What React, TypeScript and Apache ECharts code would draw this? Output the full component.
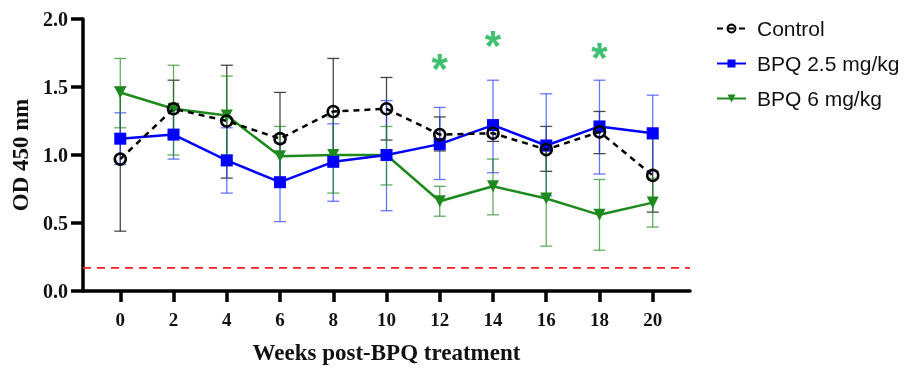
import React, { useEffect, useRef } from "react";
import * as echarts from "echarts";

const weeks = [0, 2, 4, 6, 8, 10, 12, 14, 16, 18, 20];
const xTicks = [0, 2, 4, 6, 8, 10, 12, 14, 16, 18, 20];

const controlMean = [0.97, 1.34, 1.25, 1.12, 1.32, 1.34, 1.15, 1.16, 1.04, 1.17, 0.85];
const controlLow = [0.44, 1.13, 0.83, 0.78, 0.93, 1.11, 1.03, 1.1, 0.88, 1.01, 0.58];
const controlHigh = [1.5, 1.55, 1.66, 1.46, 1.71, 1.57, 1.28, 1.22, 1.21, 1.32, 1.12];

const bpq25Mean = [1.12, 1.15, 0.96, 0.8, 0.95, 1.0, 1.08, 1.22, 1.07, 1.21, 1.16];
const bpq25Low = [0.93, 0.97, 0.72, 0.51, 0.66, 0.59, 0.82, 0.87, 0.7, 0.86, 0.88];
const bpq25High = [1.31, 1.33, 1.2, 1.09, 1.23, 1.4, 1.35, 1.55, 1.45, 1.55, 1.44];

const bpq6Mean = [1.46, 1.34, 1.29, 0.99, 1.0, 1.0, 0.66, 0.77, 0.68, 0.56, 0.65];
const bpq6Low = [1.2, 1.0, 1.0, 0.77, 0.72, 0.78, 0.55, 0.56, 0.33, 0.3, 0.47];
const bpq6High = [1.71, 1.66, 1.58, 1.21, 1.28, 1.21, 0.77, 0.97, 1.03, 0.82, 0.83];

const starWeeks = [12, 14, 18];
const starY = [1.66, 1.83, 1.74];

const cutoff = 0.17;

const serif = "'Liberation Serif', 'Times New Roman', serif";
const sans = "'Liberation Sans', Arial, sans-serif";

function errRender(color: string) {
  return (params: any, api: any) => {
    const x = api.value(0);
    const lo = api.value(1);
    const hi = api.value(2);
    const pLo = api.coord([x, lo]);
    const pHi = api.coord([x, hi]);
    const w = 6;
    const style = { stroke: color, lineWidth: 1.3 };
    return {
      type: "group",
      children: [
        { type: "line", shape: { x1: pLo[0], y1: pLo[1], x2: pHi[0], y2: pHi[1] }, style },
        { type: "line", shape: { x1: pLo[0] - w, y1: pLo[1], x2: pLo[0] + w, y2: pLo[1] }, style },
        { type: "line", shape: { x1: pHi[0] - w, y1: pHi[1], x2: pHi[0] + w, y2: pHi[1] }, style },
      ],
    };
  };
}

export default function App() {
  const ref = useRef<HTMLDivElement>(null);
  useEffect(() => {
    if (!ref.current) return;
    const chart = echarts.init(ref.current, null, { renderer: "svg" });
    const pair = (m: number[]) => weeks.map((w, i) => [w, m[i]]);
    const err = (lo: number[], hi: number[]) => weeks.map((w, i) => [w, lo[i], hi[i]]);
    chart.setOption({
      animation: false,
      grid: { left: 83, right: 216, top: 19, bottom: 76 },
      legend: {
        orient: "vertical",
        left: 711,
        top: 13,
        itemWidth: 29,
        itemHeight: 10,
        itemGap: 14,
        data: ["Control", "BPQ 2.5 mg/kg", "BPQ 6 mg/kg"],
        textStyle: { fontFamily: sans, fontSize: 21, color: "#111", padding: [0, 0, 0, 6] },
      },
      xAxis: {
        type: "value",
        min: -1.4,
        max: 21.4,
        splitLine: { show: false },
        axisLine: { lineStyle: { color: "#000", width: 3.5 } },
        axisTick: { show: true, length: 11, lineStyle: { color: "#000", width: 3.5 }, customValues: xTicks },
        axisLabel: {
          customValues: xTicks,
          margin: 19,
          fontFamily: serif,
          fontWeight: "bold",
          fontSize: 19,
          color: "#111",
        },
        name: "Weeks post-BPQ treatment",
        nameLocation: "middle",
        nameGap: 50,
        nameTextStyle: { fontFamily: serif, fontWeight: "bold", fontSize: 23, color: "#111" },
      },
      yAxis: {
        type: "value",
        min: 0,
        max: 2,
        interval: 0.5,
        splitLine: { show: false },
        axisLine: { show: true, onZero: false, lineStyle: { color: "#000", width: 3.5 } },
        axisTick: { show: true, length: 12, lineStyle: { color: "#000", width: 3.5 } },
        axisLabel: {
          margin: 15,
          fontFamily: serif,
          fontWeight: "bold",
          fontSize: 20,
          color: "#111",
          formatter: (v: number) => v.toFixed(1),
        },
        name: "OD 450 nm",
        nameLocation: "middle",
        nameGap: 50,
        nameRotate: 90,
        nameTextStyle: { fontFamily: serif, fontWeight: "bold", fontSize: 23, color: "#111" },
      },
      series: [
        {
          type: "custom",
          name: "err-control",
          renderItem: errRender("rgba(40,40,40,0.85)"),
          encode: { x: 0, y: [1, 2] },
          data: err(controlLow, controlHigh),
          z: 1,
          silent: true,
        },
        {
          type: "custom",
          name: "err-bpq25",
          renderItem: errRender("rgba(40,60,255,0.7)"),
          encode: { x: 0, y: [1, 2] },
          data: err(bpq25Low, bpq25High),
          z: 1,
          silent: true,
        },
        {
          type: "custom",
          name: "err-bpq6",
          renderItem: errRender("rgba(30,140,30,0.7)"),
          encode: { x: 0, y: [1, 2] },
          data: err(bpq6Low, bpq6High),
          z: 1,
          silent: true,
        },
        {
          type: "line",
          name: "BPQ 6 mg/kg",
          data: pair(bpq6Mean),
          symbol: "triangle",
          symbolRotate: 180,
          symbolSize: 12,
          color: "#1e8a1e",
          lineStyle: { width: 2.5, color: "#1e8a1e" },
          itemStyle: { color: "#1e8a1e" },
          z: 3,
        },
        {
          type: "line",
          name: "BPQ 2.5 mg/kg",
          data: pair(bpq25Mean),
          symbol: "rect",
          symbolSize: 12,
          color: "#0000ff",
          lineStyle: { width: 2.5, color: "#0000ff" },
          itemStyle: { color: "#0000ff" },
          z: 4,
        },
        {
          type: "line",
          name: "Control",
          data: pair(controlMean),
          symbol: "circle",
          symbolSize: 11,
          color: "#000",
          lineStyle: { width: 2.5, color: "#000", type: [6, 5] },
          itemStyle: { color: "rgba(255,255,255,0)", borderColor: "#000", borderWidth: 2.5 },
          z: 5,
        },
        {
          type: "line",
          name: "cutoff",
          data: [[-1.4, cutoff], [21.4, cutoff]],
          symbol: "none",
          lineStyle: { color: "#ff2020", width: 1.8, type: [8, 6] },
          z: 2,
          silent: true,
        },
        {
          type: "scatter",
          name: "stars",
          data: starWeeks.map((w, i) => [w, starY[i]]),
          symbolSize: 1,
          itemStyle: { color: "rgba(0,0,0,0)" },
          label: {
            show: true,
            position: "inside",
            formatter: "*",
            fontFamily: sans,
            fontSize: 42,
            fontWeight: "bold",
            color: "#10b04e",
            offset: [0, 3],
          },
          z: 6,
          silent: true,
        },
      ],
    });
    return () => chart.dispose();
  }, []);
  return <div ref={ref} style={{ position: "fixed", left: 0, top: 0, width: 906, height: 369 }} />;
}
